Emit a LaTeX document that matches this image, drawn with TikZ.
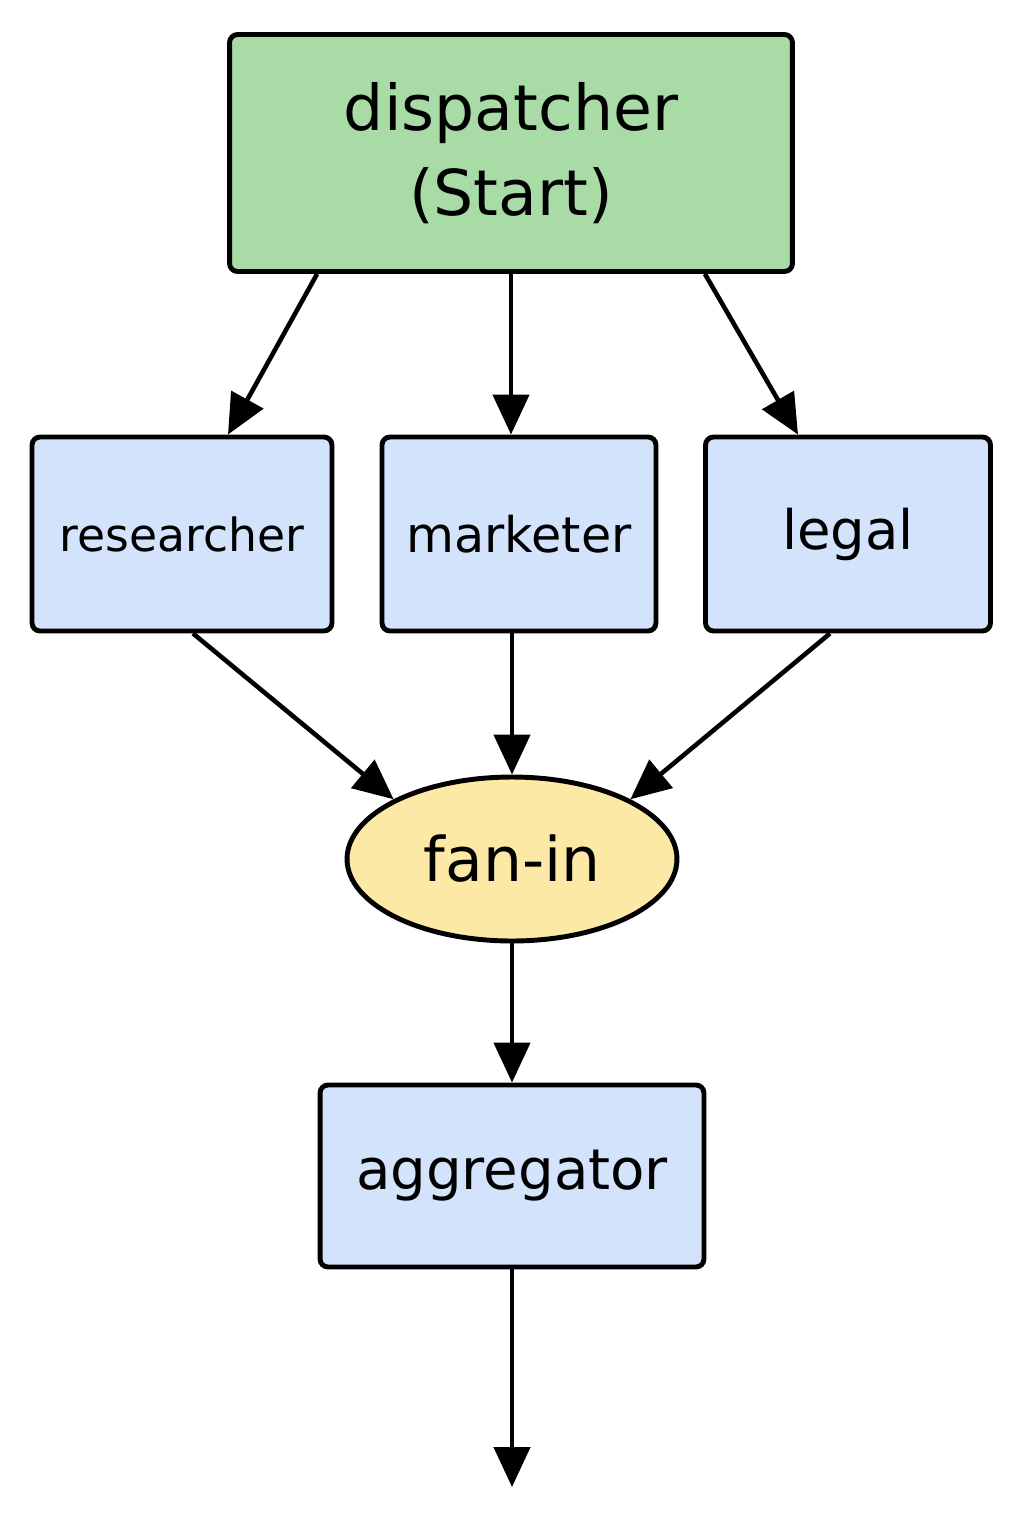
\documentclass[tikz,border=0pt]{standalone}
\usepackage{fontspec}
\setmainfont{DejaVu Sans}
\usetikzlibrary{shapes.geometric, arrows.meta, positioning}

\definecolor{startgreen}{HTML}{A9DBA7}
\definecolor{agentblue}{HTML}{D3E3FB}
\definecolor{joinyellow}{HTML}{FDE9A6}

\begin{document}
\begin{tikzpicture}[
    x=0.02cm, y=-0.02cm,
    block/.style={rectangle, rounded corners=0.16cm, draw=black, line width=2.8pt, fill=agentblue, align=center, inner sep=0pt},
    start/.style={block, fill=startgreen, minimum width=11.26cm, minimum height=4.74cm},
    merge/.style={ellipse, draw=black, line width=2.8pt, fill=joinyellow, minimum width=6.6cm, minimum height=3.28cm, inner sep=0pt},
    arrow/.style={line width=2.6pt, -{Triangle[length=0.8cm, width=0.72cm]}}
]
\useasboundingbox (0,0) rectangle (1024,1536);

% Nodes
\node (dispatcher) [start, font=\fontsize{36}{48}\selectfont] at (511,153) {dispatcher\\(Start)};
\node (researcher) [block, minimum width=6cm, minimum height=3.88cm, font=\fontsize{26}{30}\selectfont] at (182,534) {researcher};
\node (marketer) [block, minimum width=5.48cm, minimum height=3.88cm, font=\fontsize{28}{32}\selectfont] at (519,534) {marketer};
\node (legal) [block, minimum width=5.7cm, minimum height=3.88cm, font=\fontsize{31}{36}\selectfont] at (848,534) {legal};
\node (fanin) [merge, font=\fontsize{35}{40}\selectfont] at (512,859) {fan-in};
\node (aggregator) [block, minimum width=7.68cm, minimum height=3.64cm, font=\fontsize{32}{36}\selectfont] at (512,1176) {aggregator};
\coordinate (done) at (512,1487);

% Arrows
\draw [arrow] ([xshift=1.8cm]dispatcher.south west) -- ([xshift=0.92cm]researcher.north);
\draw [arrow] (dispatcher.south) -- (dispatcher.south |- marketer.north);
\draw [arrow] ([xshift=-1.8cm]dispatcher.south east) -- ([xshift=-1cm]legal.north);
\draw [arrow] ([xshift=0.22cm]researcher.south) -- (fanin.north west);
\draw [arrow] (fanin.north |- marketer.south) -- (fanin.north);
\draw [arrow] ([xshift=-0.36cm]legal.south) -- (fanin.north east);
\draw [arrow] (fanin.south) -- (aggregator.north);
\draw [arrow] (aggregator.south) -- (done);

\end{tikzpicture}
\end{document}
